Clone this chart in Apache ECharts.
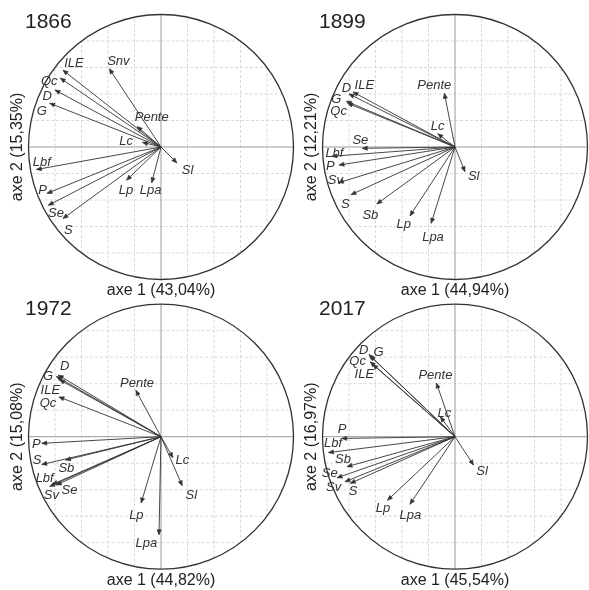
<!DOCTYPE html>
<html>
<head>
<meta charset="utf-8">
<script src="https://cdn.jsdelivr.net/npm/echarts@6/dist/echarts.min.js"></script>
<style>
html,body{margin:0;padding:0;background:#fff;}
#chart{width:589px;height:590px;}
</style>
</head>
<body>
<div id="chart"></div>
<script>
// ---------- data ----------
const years = ['1866', '1899', '1972', '2017'];
const axe1Titles = ['axe 1 (43,04%)', 'axe 1 (44,94%)', 'axe 1 (44,82%)', 'axe 1 (45,54%)'];
const axe2Titles = ['axe 2 (15,35%)', 'axe 2 (12,21%)', 'axe 2 (15,08%)', 'axe 2 (16,97%)'];
const gridTicks = [-0.8, -0.6, -0.4, -0.2, 0.2, 0.4, 0.6, 0.8];

const vars1866 = ['ILE', 'Qc', 'D', 'G', 'Snv', 'Pente', 'Lc', 'Lbf', 'P', 'Se', 'S', 'Lp', 'Lpa', 'Sl'];
const dim1_1866 = [-0.74, -0.76, -0.80, -0.84, -0.39, -0.18, -0.14, -0.94, -0.86, -0.85, -0.74, -0.26, -0.07, 0.12];
const dim2_1866 = [0.58, 0.52, 0.43, 0.33, 0.59, 0.155, 0.035, -0.17, -0.35, -0.44, -0.54, -0.25, -0.27, -0.12];

const vars1899 = ['D', 'ILE', 'G', 'Qc', 'Pente', 'Lc', 'Se', 'Lbf', 'P', 'Sv', 'S', 'Sb', 'Lp', 'Lpa', 'Sl'];
const dim1_1899 = [-0.80, -0.77, -0.82, -0.81, -0.08, -0.13, -0.70, -0.93, -0.875, -0.88, -0.785, -0.59, -0.34, -0.18, 0.075];
const dim2_1899 = [0.40, 0.415, 0.345, 0.33, 0.405, 0.10, -0.01, -0.07, -0.136, -0.27, -0.36, -0.43, -0.52, -0.576, -0.186];

const vars1972 = ['D', 'G', 'ILE', 'Qc', 'Pente', 'P', 'S', 'Sb', 'Lbf', 'Sv', 'Se', 'Lc', 'Sl', 'Lp', 'Lpa'];
const dim1_1972 = [-0.775, -0.79, -0.765, -0.77, -0.19, -0.90, -0.90, -0.72, -0.82, -0.84, -0.79, 0.09, 0.16, -0.15, -0.015];
const dim2_1972 = [0.465, 0.455, 0.43, 0.30, 0.35, -0.05, -0.21, -0.176, -0.36, -0.375, -0.365, -0.158, -0.37, -0.50, -0.74];

const vars2017 = ['D', 'G', 'Qc', 'ILE', 'Pente', 'Lc', 'P', 'Lbf', 'Sb', 'Se', 'Sv', 'S', 'Lp', 'Lpa', 'Sl'];
const dim1_2017 = [-0.65, -0.64, -0.64, -0.62, -0.14, -0.11, -0.855, -0.955, -0.815, -0.89, -0.83, -0.79, -0.51, -0.34, 0.14];
const dim2_2017 = [0.62, 0.61, 0.565, 0.545, 0.405, 0.15, -0.013, -0.12, -0.226, -0.31, -0.34, -0.352, -0.48, -0.51, -0.214];

// ---------- layout (label anchors, in axis units; separate from data) ----------
const labelSpots = [
  [[-0.657,0.632],[-0.843,0.498],[-0.858,0.38],[-0.90,0.272],[-0.322,0.649],[-0.07,0.224],[-0.264,0.04],[-0.90,-0.118],[-0.893,-0.325],[-0.792,-0.50],[-0.70,-0.626],[-0.264,-0.33],[-0.078,-0.33],[0.20,-0.174]],
  [[-0.82,0.443],[-0.684,0.463],[-0.896,0.36],[-0.878,0.267],[-0.156,0.468],[-0.131,0.158],[-0.714,0.048],[-0.91,-0.048],[-0.94,-0.148],[-0.903,-0.254],[-0.828,-0.43],[-0.639,-0.513],[-0.387,-0.581],[-0.166,-0.682],[0.141,-0.224]],
  [[-0.727,0.528],[-0.853,0.453],[-0.835,0.352],[-0.853,0.252],[-0.181,0.403],[-0.94,-0.055],[-0.936,-0.176],[-0.714,-0.239],[-0.878,-0.314],[-0.828,-0.44],[-0.69,-0.403],[0.161,-0.176],[0.229,-0.44],[-0.186,-0.591],[-0.111,-0.805]],
  [[-0.69,0.654],[-0.576,0.636],[-0.735,0.571],[-0.684,0.47],[-0.148,0.465],[-0.08,0.176],[-0.853,0.058],[-0.92,-0.05],[-0.845,-0.169],[-0.946,-0.277],[-0.916,-0.385],[-0.77,-0.415],[-0.543,-0.541],[-0.337,-0.591],[0.204,-0.264]]
];

const panelVars = [vars1866, vars1899, vars1972, vars2017];
const panelDim1 = [dim1_1866, dim1_1899, dim1_1972, dim1_2017];
const panelDim2 = [dim2_1866, dim2_1899, dim2_1972, dim2_2017];

const FONT = "'Liberation Sans', Arial, sans-serif";
const SIZE = 265;
const gridPos = [
  {left: 28.5, top: 14.5},
  {left: 322.5, top: 14.5},
  {left: 28.5, top: 304.2},
  {left: 322.5, top: 304.2}
];
const titlePos = [
  {left: 25, top: 12},
  {left: 319, top: 12},
  {left: 25, top: 299},
  {left: 319, top: 299}
];

const chart = echarts.init(document.getElementById('chart'), null, {renderer: 'canvas'});

const grids = [], xAxes = [], yAxes = [], series = [], titles = [];

years.forEach((yr, i) => {
  grids.push({left: gridPos[i].left, top: gridPos[i].top, width: SIZE, height: SIZE, containLabel: false});
  xAxes.push({
    gridIndex: i, type: 'value', min: -1, max: 1, interval: 0.2,
    axisLine: {show: false}, axisTick: {show: false}, axisLabel: {show: false}, splitLine: {show: false},
    name: axe1Titles[i], nameLocation: 'middle', nameGap: 3,
    nameTextStyle: {fontFamily: FONT, fontSize: 16, color: '#222', verticalAlign: 'top'}
  });
  yAxes.push({
    gridIndex: i, type: 'value', min: -1, max: 1, interval: 0.2,
    axisLine: {show: false}, axisTick: {show: false}, axisLabel: {show: false}, splitLine: {show: false},
    name: axe2Titles[i], nameLocation: 'middle', nameGap: 3, nameRotate: 90,
    nameTextStyle: {fontFamily: FONT, fontSize: 16, color: '#222', verticalAlign: 'bottom'}
  });
  titles.push({
    text: yr, left: titlePos[i].left, top: titlePos[i].top, padding: 0,
    textStyle: {fontFamily: FONT, fontSize: 21, fontWeight: 'normal', color: '#222'}
  });

  // dashed grid lines clipped to the unit circle
  series.push({
    type: 'custom', xAxisIndex: i, yAxisIndex: i, silent: true, z: 1,
    data: gridTicks.map(g => [g]),
    renderItem: function (params, api) {
      const g = api.value(0);
      const h = Math.sqrt(1 - g * g);
      const a = api.coord([g, -h]), b = api.coord([g, h]);
      const c = api.coord([-h, g]), d = api.coord([h, g]);
      const st = {stroke: '#cfcfcf', lineWidth: 0.8, lineDash: [3, 2]};
      return {type: 'group', children: [
        {type: 'line', shape: {x1: a[0], y1: a[1], x2: b[0], y2: b[1]}, style: st},
        {type: 'line', shape: {x1: c[0], y1: c[1], x2: d[0], y2: d[1]}, style: st}
      ]};
    }
  });

  // axes lines + circle
  series.push({
    type: 'custom', xAxisIndex: i, yAxisIndex: i, silent: true, z: 2,
    data: [[0, 0]],
    renderItem: function (params, api) {
      const c = api.coord([0, 0]);
      const r = api.coord([1, 0])[0] - c[0];
      const l = api.coord([-1, 0]), rr = api.coord([1, 0]);
      const t = api.coord([0, 1]), b = api.coord([0, -1]);
      const st = {stroke: '#9a9a9a', lineWidth: 1};
      return {type: 'group', children: [
        {type: 'line', shape: {x1: l[0], y1: l[1], x2: rr[0], y2: rr[1]}, style: st},
        {type: 'line', shape: {x1: t[0], y1: t[1], x2: b[0], y2: b[1]}, style: st},
        {type: 'circle', shape: {cx: c[0], cy: c[1], r: r}, style: {fill: null, stroke: '#333', lineWidth: 1.3}}
      ]};
    }
  });

  // arrows
  const names = panelVars[i];
  const spots = labelSpots[i];
  series.push({
    type: 'custom', xAxisIndex: i, yAxisIndex: i, silent: true, z: 3,
    data: panelDim1[i].map((v, k) => [v, panelDim2[i][k], spots[k][0], spots[k][1]]),
    renderItem: function (params, api) {
      const p0 = api.coord([0, 0]);
      const p1 = api.coord([api.value(0), api.value(1)]);
      const lp = api.coord([api.value(2), api.value(3)]);
      const ang = Math.atan2(p1[1] - p0[1], p1[0] - p0[0]);
      const L = 5.5, W = 0.4;
      const h1 = [p1[0] - L * Math.cos(ang - W), p1[1] - L * Math.sin(ang - W)];
      const h2 = [p1[0] - L * Math.cos(ang + W), p1[1] - L * Math.sin(ang + W)];
      return {type: 'group', children: [
        {type: 'line', shape: {x1: p0[0], y1: p0[1], x2: p1[0], y2: p1[1]}, style: {stroke: '#333', lineWidth: 0.9}},
        {type: 'polygon', shape: {points: [p1, h1, h2]}, style: {fill: '#333', stroke: '#333', lineWidth: 0.5}},
        {type: 'text', x: lp[0], y: lp[1], style: {
          text: names[params.dataIndex], align: 'center', verticalAlign: 'middle',
          fontFamily: FONT, fontStyle: 'italic', fontSize: 13, fill: '#333'
        }}
      ]};
    }
  });
});

chart.setOption({
  animation: false,
  backgroundColor: '#fff',
  title: titles,
  grid: grids,
  xAxis: xAxes,
  yAxis: yAxes,
  series: series
});
</script>
</body>
</html>
